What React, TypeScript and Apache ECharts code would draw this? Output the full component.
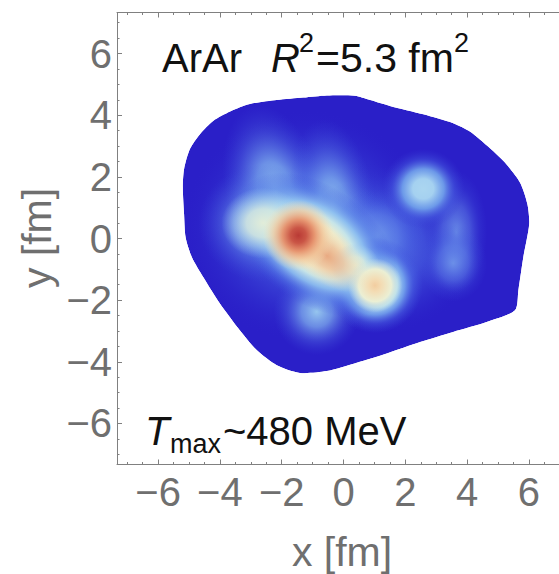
import React, { useEffect, useRef } from "react";
import * as echarts from "echarts";

const majorTicks = [-6, -4, -2, 0, 2, 4, 6];
const minorTicks = [-7, -6.5, -5.5, -5, -4.5, -3.5, -3, -2.5, -1.5, -1, -0.5, 0.5, 1, 1.5, 2.5, 3, 3.5, 4.5, 5, 5.5, 6.5, 7];

// Outline of the medium, in fm
const boundaryX = [0.37,-0.54,-1.30,-2.16,-3.03,-3.67,-4.21,-4.64,-4.97,-5.16,-5.20,-5.16,-5.11,-4.91,-4.54,-4.00,-3.40,-2.81,-2.16,-1.41,-0.54,0.43,1.40,2.48,3.55,4.63,5.55,5.66,5.82,6.01,5.95,5.71,5.17,4.52,4.09,3.55,2.58,1.50,0.86];
const boundaryY = [4.63,4.64,4.57,4.49,4.36,4.12,3.82,3.39,2.90,2.25,1.66,0.80,0.04,-0.60,-1.25,-2.11,-2.92,-3.62,-4.11,-4.36,-4.30,-4.03,-3.73,-3.36,-3.03,-2.71,-2.33,-1.68,-0.60,0.47,1.12,1.82,2.52,3.12,3.47,3.74,4.03,4.30,4.49];

// Hot spots, back to front: centre (fm), half-axes (fm), tilt (deg), colour ramp name
const spotX = [-1.2, 1.2, -2.2, -0.3, 0.2, 1.1, 3.65, 3.55, -0.87, 2.58, -2.6, 1.02, -0.9, -2.6, 0.37, 1.02, -0.55, -1.46];
const spotY = [0.4, -0.3, 1.5, 0.9, -0.2, 0.1, 0.2, -0.8, -2.38, 1.61, 0.5, -1.52, -0.2, 0.5, -0.87, -1.52, -0.55, 0.1];
const spotRx = [4.0, 3.2, 1.6, 1.4, 1.5, 1.5, 1.0, 1.1, 1.4, 1.35, 2.1, 1.55, 3.0, 1.35, 0.8, 0.88, 1.6, 1.15];
const spotRy = [3.8, 2.8, 2.9, 3.0, 2.0, 1.5, 2.0, 1.25, 1.4, 1.3, 1.9, 1.55, 1.9, 1.15, 0.7, 0.88, 0.85, 1.15];
const spotTilt = [0, 0, 15, 8, 0, 0, 0, 0, 0, 0, 0, 0, -36, 0, 0, 0, -38, -30];
const spotRamp = ["glow", "glow", "sky", "sky", "sky", "dim", "dim", "dim", "sky", "bright", "sky", "hotOuter", "halo", "pale", "pale", "hotInner", "orange", "core"];

const ramps: Record<string, [number, string][]> = {
  glow: [[0, "rgba(95,135,234,0.9)"], [0.45, "rgba(75,105,228,0.62)"], [0.75, "rgba(55,65,214,0.3)"], [1, "rgba(42,31,200,0)"]],
  sky: [[0, "rgba(155,205,240,0.95)"], [0.35, "rgba(130,180,238,0.72)"], [0.7, "rgba(90,125,230,0.3)"], [1, "rgba(60,80,220,0)"]],
  dim: [[0, "rgba(115,155,235,0.85)"], [0.45, "rgba(95,130,232,0.52)"], [0.75, "rgba(70,95,225,0.2)"], [1, "rgba(60,80,220,0)"]],
  bright: [[0, "#abd6f0"], [0.25, "#a5d1f0"], [0.5, "rgba(115,165,236,0.9)"], [0.75, "rgba(72,95,225,0.45)"], [1, "rgba(55,60,212,0)"]],
  hotOuter: [[0, "#afdaf0"], [0.46, "#afdaf0"], [0.62, "rgba(120,170,238,0.85)"], [0.8, "rgba(80,110,230,0.42)"], [1, "rgba(60,80,220,0)"]],
  hotInner: [[0, "#f2cda0"], [0.24, "#f3dcb4"], [0.6, "#ebefd4"], [1, "rgba(200,230,232,0)"]],
  halo: [[0, "#f1e4be"], [0.34, "#eeeed0"], [0.48, "rgba(200,230,232,0.98)"], [0.62, "rgba(145,195,240,0.88)"], [0.8, "rgba(90,130,232,0.45)"], [1, "rgba(60,80,220,0)"]],
  pale: [[0, "rgba(228,238,216,0.97)"], [0.4, "rgba(215,235,224,0.85)"], [0.7, "rgba(185,222,236,0.45)"], [1, "rgba(160,205,240,0)"]],
  orange: [[0, "rgba(232,165,125,0.95)"], [0.4, "rgba(238,190,150,0.75)"], [0.75, "rgba(242,215,175,0.3)"], [1, "rgba(243,225,185,0)"]],
  core: [[0, "#b93a35"], [0.22, "#ca5646"], [0.45, "rgba(230,145,108,0.95)"], [0.7, "rgba(242,195,150,0.65)"], [1, "rgba(243,225,185,0)"]],
};

const spotData = spotX.map((x, i) => [x, spotY[i], spotRx[i], spotRy[i], spotTilt[i], i]);
const boundary = boundaryX.map((x, i) => [x, boundaryY[i]]);

const GREY = "#6f6f6f";
const AXIS = "#808080";
const RANGE = 7.33;
const FONT = "'Liberation Sans', Arial, sans-serif";

const label = (show: boolean) => ({
  show,
  customValues: majorTicks,
  color: GREY,
  fontSize: 40,
  fontFamily: FONT,
  formatter: (v: number) => String(v).replace("-", "\u2212"),
});

function axis(kind: "x" | "y", position: string, vals: number[], len: number, lab: boolean, line: boolean) {
  return {
    type: "value",
    min: -RANGE,
    max: RANGE,
    position,
    splitLine: { show: false },
    axisLine: { show: line, onZero: false, lineStyle: { color: AXIS, width: 1 } },
    axisTick: { show: true, inside: true, length: len, customValues: vals, lineStyle: { color: AXIS, width: 1 } },
    axisLabel: { ...label(lab), margin: kind === "x" ? 7 : 5 },
  };
}

export default function App() {
  const ref = useRef<HTMLDivElement>(null);
  useEffect(() => {
    const chart = echarts.init(ref.current!, null, { renderer: "svg" });
    const txt = (x: number, baseline: number, text: string, size: number, italic = false) => ({
      type: "text",
      x,
      y: baseline - 0.346 * size,
      style: { text, fontSize: size, fontFamily: FONT, fontStyle: italic ? "italic" : "normal", fill: "#111", verticalAlign: "middle" },
    });
    chart.setOption({
      animation: false,
      backgroundColor: "#fff",
      grid: { left: 117, right: 0, top: 12.5, bottom: 109.5 },
      xAxis: [
        axis("x", "bottom", majorTicks, 5, true, true),
        axis("x", "bottom", minorTicks, 2.5, false, false),
        axis("x", "top", majorTicks, 5, false, true),
        axis("x", "top", minorTicks, 2.5, false, false),
      ],
      yAxis: [
        axis("y", "left", majorTicks, 5, true, true),
        axis("y", "left", minorTicks, 2.5, false, false),
        axis("y", "right", majorTicks, 5, false, true),
        axis("y", "right", minorTicks, 2.5, false, false),
      ],
      graphic: [
        txt(162, 72, "ArAr", 40),
        txt(271, 72, "R", 40, true),
        txt(299, 52, "2", 27),
        txt(316, 72, "=5.3 fm", 41),
        txt(454, 52, "2", 27),
        txt(145, 445, "T", 40, true),
        txt(170, 453, "max", 27),
        txt(223, 445, "~480 MeV", 40),
        { type: "text", x: 342, y: 552, style: { text: "x [fm]", fontSize: 41, fontFamily: FONT, fill: GREY, align: "center", verticalAlign: "middle" } },
        { type: "text", x: 37, y: 238, rotation: Math.PI / 2, style: { text: "y [fm]", fontSize: 41, fontFamily: FONT, fill: GREY, align: "center", verticalAlign: "middle" } },
      ],
      series: [
        {
          type: "custom",
          coordinateSystem: "cartesian2d",
          clip: false,
          silent: true,
          data: [[0, 0]],
          renderItem: (_p: any, api: any) => {
            const points = boundary.map((p) => api.coord(p));
            return {
              type: "group",
              clipPath: { type: "polygon", shape: { points, smooth: 0.25 } },
              children: [
                { type: "polygon", shape: { points, smooth: 0.25 }, style: { fill: "#2a1fc8" } },
                ...spotData.map(([x, y, rx, ry, tilt, i]) => {
                  const c = api.coord([x, y]);
                  const s = api.size([rx, ry]);
                  return {
                    type: "ellipse",
                    x: c[0],
                    y: c[1],
                    rotation: (tilt * Math.PI) / 180,
                    shape: { cx: 0, cy: 0, rx: s[0], ry: s[1] },
                    style: {
                      fill: new echarts.graphic.RadialGradient(0.5, 0.5, 0.5, ramps[spotRamp[i]].map(([offset, color]) => ({ offset, color }))),
                    },
                  };
                }),
              ],
            };
          },
        },
      ],
    });
    return () => chart.dispose();
  }, []);
  return (
    <div style={{ position: "absolute", left: 0, top: 0, width: 559, height: 574, overflow: "hidden" }}>
      <div ref={ref} style={{ width: 570, height: 574 }} />
    </div>
  );
}
